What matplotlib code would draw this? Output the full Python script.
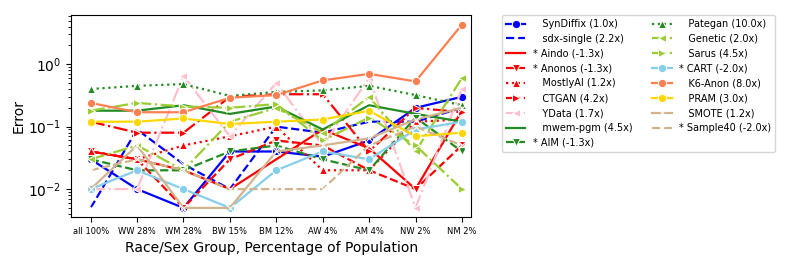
import matplotlib
matplotlib.use("Agg")
import matplotlib.pyplot as plt

groups = ['all 100%', 'WW 28%', 'WM 28%', 'BW 15%', 'BM 12%', 'AW 4%', 'AM 4%', 'NW 2%', 'NM 2%']

syndiffix = [0.03, 0.01, 0.005, 0.04, 0.04, 0.033, 0.06, 0.2, 0.3]
sdx_single = [0.005, 0.09, 0.025, 0.01, 0.1, 0.08, 0.12, 0.12, 0.2]
aindo = [0.04, 0.03, 0.02, 0.01, 0.03, 0.09, 0.045, 0.01, 0.18]
anonos = [0.04, 0.03, 0.005, 0.03, 0.06, 0.05, 0.02, 0.01, 0.05]
mostlyai = [0.04, 0.03, 0.05, 0.07, 0.1, 0.02, 0.02, 0.12, 0.13]
ctgan = [0.12, 0.08, 0.08, 0.3, 0.33, 0.33, 0.04, 0.2, 0.17]
ydata = [0.01, 0.01, 0.65, 0.07, 0.5, 0.05, 0.6, 0.005, 0.4]
mwem_pgm = [0.18, 0.18, 0.22, 0.16, 0.21, 0.09, 0.22, 0.16, 0.12]
aim = [0.03, 0.02, 0.02, 0.04, 0.05, 0.03, 0.02, 0.14, 0.04]
pategan = [0.4, 0.45, 0.48, 0.31, 0.36, 0.38, 0.45, 0.32, 0.22]
genetic = [0.03, 0.05, 0.02, 0.12, 0.2, 0.08, 0.3, 0.04, 0.6]
sarus = [0.18, 0.24, 0.21, 0.2, 0.23, 0.06, 0.14, 0.05, 0.01]
cart = [0.01, 0.02, 0.01, 0.005, 0.02, 0.04, 0.03, 0.09, 0.12]
k6_anon = [0.24, 0.17, 0.17, 0.29, 0.32, 0.55, 0.7, 0.53, 4.3]
pram = [0.12, 0.12, 0.135, 0.11, 0.12, 0.13, 0.18, 0.07, 0.08]
smote = [0.01, 0.05, 0.005, 0.005, 0.04, 0.05, 0.065, 0.13, 0.2]
sample40 = [0.02, 0.03, 0.02, 0.01, 0.01, 0.01, 0.05, 0.1, 0.05]

# label, values, color, linestyle, marker
series = [
    ('   SynDiffix (1.0x)', syndiffix, 'blue', '-', 'o'),
    ('   sdx-single (2.2x)', sdx_single, 'blue', '--', 'x'),
    ('* Aindo (-1.3x)', aindo, 'red', '-', ''),
    ('* Anonos (-1.3x)', anonos, 'red', '--', 'v'),
    ('   MostlyAI (1.2x)', mostlyai, 'red', ':', '^'),
    ('   CTGAN (4.2x)', ctgan, 'red', '-.', '>'),
    ('   YData (1.7x)', ydata, 'pink', '-.', '<'),
    ('   mwem-pgm (4.5x)', mwem_pgm, 'forestgreen', '-', ''),
    ('* AIM (-1.3x)', aim, 'forestgreen', '--', 'v'),
    ('   Pategan (10.0x)', pategan, 'forestgreen', ':', '^'),
    ('   Genetic (2.0x)', genetic, 'yellowgreen', '-.', '<'),
    ('   Sarus (4.5x)', sarus, 'yellowgreen', '-.', '>'),
    ('* CART (-2.0x)', cart, 'skyblue', '-', 'o'),
    ('   K6-Anon (8.0x)', k6_anon, 'coral', '-', 'o'),
    ('   PRAM (3.0x)', pram, 'gold', '-', 'o'),
    ('   SMOTE (1.2x)', smote, 'tan', '-', 'x'),
    ('* Sample40 (-2.0x)', sample40, 'tan', '--', 'x'),
]

fig = plt.figure(figsize=(8, 2.7), dpi=100)
ax = fig.add_axes([0.089, 0.197, 0.5, 0.747])

x = list(range(len(groups)))
for label, vals, color, ls, mk in series:
    ax.plot(x, vals, color=color, linestyle=ls, marker=mk, linewidth=1.6,
            markersize=6, markeredgecolor='w', markeredgewidth=0.75, label=label)

ax.set_yscale('log')
ax.set_ylim(0.0036, 6.1)
ax.set_xlim(-0.42, 8.2)
ax.set_xticks(x)
ax.set_xticklabels(groups, fontsize=6)
ax.set_ylabel('Error', fontsize=10, labelpad=2)
ax.set_xlabel('Race/Sex Group, Percentage of Population', fontsize=10)

ax.legend(loc='upper left', bbox_to_anchor=(1.077, 1.0), borderaxespad=0,
          ncol=2, fontsize=7)

fig.savefig('out.png', dpi=100)
